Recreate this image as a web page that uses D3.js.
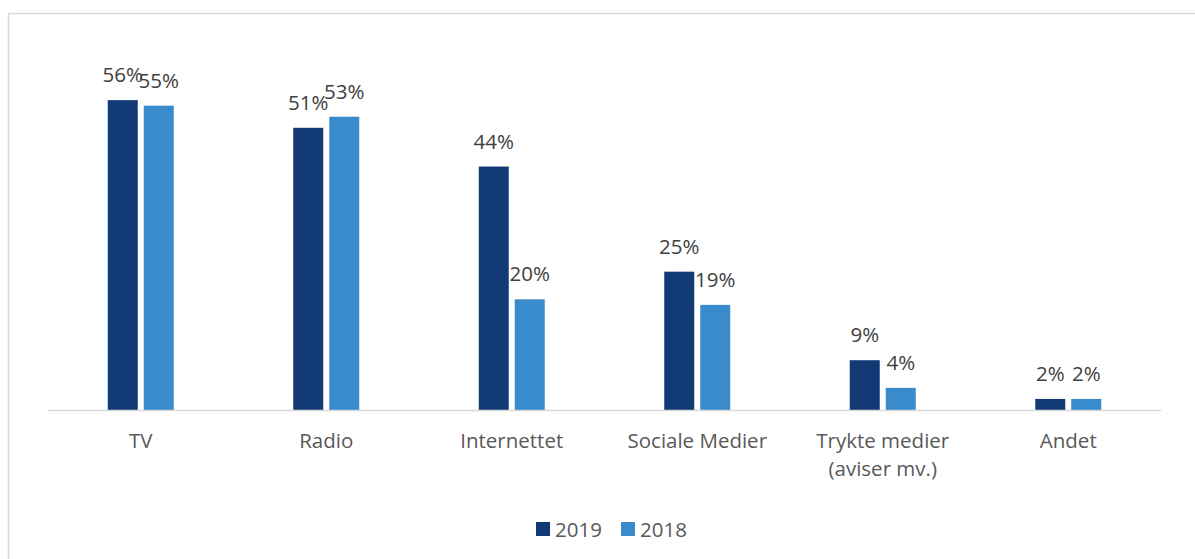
<!DOCTYPE html>
<html><head><meta charset="utf-8">
<script src="https://cdn.jsdelivr.net/npm/d3@7"></script>
<style>body{margin:0;background:#fff;}svg{display:block;font-family:"Open Sans",sans-serif;}</style>
</head><body>
<svg id="c" width="1195" height="559"></svg>
<script>
const categories = ["TV", "Radio", "Internettet", "Sociale Medier", "Trykte medier\n(aviser mv.)", "Andet"];
const seriesNames = ["2019", "2018"];
const values2019 = [56, 51, 44, 25, 9, 2];
const values2018 = [55, 53, 20, 19, 4, 2];
const colors = ["#123a75", "#3a8bcb"];

const svg = d3.select("#c");
svg.append("rect").attr("x", 8.5).attr("y", 13.5).attr("width", 1200).attr("height", 600)
  .attr("fill", "#fff").attr("stroke", "#d9d9d9").attr("stroke-width", 1.5);

const x = d3.scaleBand().domain(categories).range([48, 1161]);
const y = d3.scaleLinear().domain([0, 60]).range([410, 78]);
const inner = d3.scaleBand().domain(seriesNames).range([0, 66]).paddingInner(0.1667);
const series = [values2019, values2018];
const fs = 20.5;

categories.forEach((c, i) => {
  const g = svg.append("g").attr("transform", `translate(${x(c) + x.bandwidth()/2 - 33},0)`);
  seriesNames.forEach((s, j) => {
    const v = series[j][i];
    g.append("rect").attr("x", inner(s)).attr("width", inner.bandwidth())
      .attr("y", y(v)).attr("height", y(0) - y(v)).attr("fill", colors[j]);
    g.append("text").attr("x", inner(s) + inner.bandwidth()/2).attr("y", y(v) - 18)
      .attr("text-anchor", "middle").attr("font-size", fs).attr("fill", "#404040").text(v + "%");
  });
});

svg.append("line").attr("x1", 48).attr("x2", 1161).attr("y1", 410.5).attr("y2", 410.5)
  .attr("stroke", "#d9d9d9").attr("stroke-width", 1.5);

categories.forEach(c => {
  const lines = c.split("\n");
  const t = svg.append("text").attr("text-anchor", "middle").attr("font-size", fs).attr("fill", "#595959");
  lines.forEach((l, k) => {
    t.append("tspan").attr("x", x(c) + x.bandwidth()/2).attr("y", 448 + k * 28).text(l);
  });
});

const leg = svg.append("g");
const legPos = [536, 621];
seriesNames.forEach((s, j) => {
  leg.append("rect").attr("x", legPos[j]).attr("y", 522).attr("width", 14).attr("height", 14).attr("fill", colors[j]);
  leg.append("text").attr("x", legPos[j] + 19).attr("y", 536.5).attr("font-size", fs).attr("fill", "#595959").text(s);
});
</script>
</body></html>
